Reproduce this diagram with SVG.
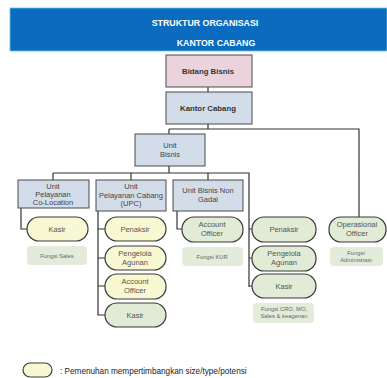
<svg xmlns="http://www.w3.org/2000/svg" width="387" height="378" viewBox="0 0 387 378">
<style>
text{font-family:"Liberation Sans",Arial,sans-serif;text-anchor:middle}
.hdr{fill:#fff;font-size:8.8px;font-weight:bold}
.box{fill:#d3dde9;stroke:#4a4a4a;stroke-width:1}
.bt{fill:#444;font-size:7.5px}
.ov{stroke:#3a3a3a;stroke-width:1.2}
.y{fill:#f8f8d3}
.g{fill:#e1ebd6}
.ot{fill:#555;font-size:7.5px}
.fn{fill:#e3ecdb}
.ft{fill:#666;font-size:5.8px}
.cn{fill:none;stroke:#333;stroke-width:1.2}
</style>
<rect width="387" height="378" fill="#fff"/>
<g id="header">
<rect x="10" y="8" width="377" height="43" fill="#0b6cbf" stroke="#6cc4e8" stroke-width="0.8"/>
<text class="hdr" x="205" y="26">STRUKTUR ORGANISASI</text>
<text class="hdr" x="216" y="46">KANTOR CABANG</text>
</g>
<g id="connectors">
<path class="cn" d="M208 87V92M208 124V129M169 129H359V217M169 129V134M169 166V173M53 173H249V287M53 173V180M131 173V180M208 173V180"/>
<path class="cn" d="M21 208V229H27"/>
<path class="cn" d="M98 211V315H105M98 229H105M98 258H105M98 286H105"/>
<path class="cn" d="M177 211V229H182"/>
<path class="cn" d="M249 229H252M249 258H252M249 286H252"/>
</g>
<g id="bidang-bisnis"><rect x="166" y="55" width="86" height="32" fill="#ebd3de" stroke="#4a4a4a"/><text x="208" y="73.5" font-size="7.8px" font-weight="bold" fill="#333">Bidang Bisnis</text></g>
<g id="kantor-cabang"><rect class="box" x="166" y="92" width="86" height="32"/><text x="208" y="110.5" font-size="7.8px" font-weight="bold" fill="#333">Kantor Cabang</text></g>
<g id="unit-bisnis"><rect class="box" x="135" y="134" width="70" height="32"/><text class="bt" x="170" y="148">Unit</text><text class="bt" x="170" y="157">Bisnis</text></g>
<g id="unit-colocation"><rect class="box" x="18" y="180" width="71" height="28"/><text class="bt" x="53" y="188.5">Unit</text><text class="bt" x="53" y="196.5">Pelayanan</text><text class="bt" x="53" y="204.5">Co-Location</text></g>
<g id="unit-upc"><rect class="box" x="96" y="180" width="70" height="31"/><text class="bt" x="131" y="189">Unit</text><text class="bt" x="131" y="197.5">Pelayanan Cabang</text><text class="bt" x="131" y="206">(UPC)</text></g>
<g id="unit-nongadai"><rect class="box" x="173" y="180" width="70" height="31"/><text class="bt" x="208" y="193">Unit Bisnis Non</text><text class="bt" x="208" y="202">Gadai</text></g>
<g id="kasir-1"><rect class="ov y" x="27" y="217" width="61" height="24" rx="12"/><text class="ot" x="57" y="231.5">Kasir</text></g>
<g id="fungsi-sales"><rect class="fn" x="27" y="246" width="60" height="19" rx="4"/><text class="ft" x="57" y="257.5">Fungsi Sales</text></g>
<g id="penaksir-1"><rect class="ov y" x="105" y="217" width="61" height="24" rx="12"/><text class="ot" x="135" y="231.5">Penaksir</text></g>
<g id="pengelola-1"><rect class="ov y" x="105" y="246" width="61" height="24" rx="12"/><text class="ot" x="135" y="256">Pengelola</text><text class="ot" x="135" y="264.5">Agunan</text></g>
<g id="ao-1"><rect class="ov y" x="105" y="274" width="61" height="25" rx="12"/><text class="ot" x="135" y="284">Account</text><text class="ot" x="135" y="292.5">Officer</text></g>
<g id="kasir-2"><rect class="ov g" x="105" y="303" width="61" height="24" rx="12"/><text class="ot" x="135" y="317.5">Kasir</text></g>
<g id="ao-2"><rect class="ov g" x="182" y="217" width="61" height="25" rx="12"/><text class="ot" x="212" y="227">Account</text><text class="ot" x="212" y="235.5">Officer</text></g>
<g id="fungsi-kur"><rect class="fn" x="182" y="247" width="61" height="19" rx="4"/><text class="ft" x="212" y="258.5">Fungsi KUR</text></g>
<g id="penaksir-2"><rect class="ov g" x="252" y="217" width="64" height="25" rx="12"/><text class="ot" x="284" y="232">Penaksir</text></g>
<g id="pengelola-2"><rect class="ov g" x="252" y="246" width="64" height="25" rx="12"/><text class="ot" x="284" y="256">Pengelola</text><text class="ot" x="284" y="264.5">Agunan</text></g>
<g id="kasir-3"><rect class="ov g" x="252" y="274" width="64" height="24" rx="12"/><text class="ot" x="284" y="288.5">Kasir</text></g>
<g id="fungsi-cro"><rect class="fn" x="253" y="303" width="61" height="20" rx="4"/><text class="ft" x="284" y="311">Fungsi CRO, MO,</text><text class="ft" x="284" y="318">Sales &amp; keagenan</text></g>
<g id="operasional"><rect class="ov g" x="329" y="217" width="57" height="25" rx="12"/><text class="ot" x="357" y="227">Operasional</text><text class="ot" x="357" y="235.5">Officer</text></g>
<g id="fungsi-adm"><rect class="fn" x="330" y="247" width="53" height="19" rx="4"/><text class="ft" x="356" y="255">Fungsi</text><text class="ft" x="356" y="261.5">Administrasi</text></g>
<g id="legend"><rect class="ov y" x="23" y="363" width="29" height="14" rx="7" stroke-width="1"/><text x="60" y="374" font-size="8.2px" fill="#222" style="text-anchor:start">: Pemenuhan mempertimbangkan size/type/potensi</text></g>
</svg>
